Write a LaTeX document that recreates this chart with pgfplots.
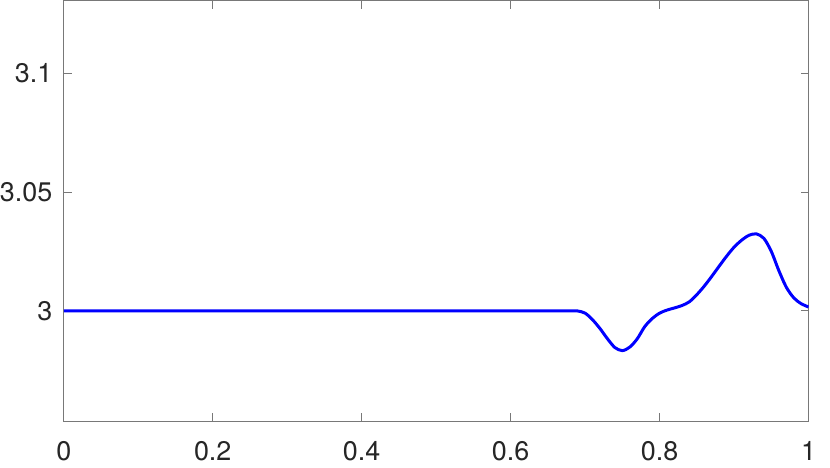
\documentclass[border=0pt]{standalone}
\usepackage{fontspec}
\setmainfont{TeX Gyre Heros}
\usepackage{pgfplots}
\pgfplotsset{compat=1.18}

\definecolor{axgray}{RGB}{120,120,120}
\definecolor{labgray}{RGB}{38,38,38}

\begin{document}
\begin{tikzpicture}
\begin{axis}[
  scale only axis,
  width=373.5pt,
  height=211pt,
  xmin=0, xmax=1,
  ymin=2.9534, ymax=3.1307,
  xtick={0,0.2,0.4,0.6,0.8,1},
  ytick={3,3.05,3.1},
  yticklabels={3,3.05,3.1},
  xticklabels={0,0.2,0.4,0.6,0.8,1},
  tick align=inside,
  major tick length=4pt,
  axis line style={axgray, line width=0.6pt},
  tick style={axgray, line width=0.6pt},
  tick label style={font=\fontsize{13.5}{16}\selectfont, text=labgray},
  /pgf/number format/assume math mode=true,
  xticklabel style={inner ysep=3pt, inner xsep=7pt, yshift=-7pt},
  yticklabel style={inner xsep=0pt, xshift=-5.5pt},
]
% data
\addplot[blue, line width=1.5pt, smooth, tension=0.5, line join=round] coordinates {
  (0,3) (0.1,3) (0.2,3) (0.3,3) (0.4,3) (0.5,3) (0.6,3) (0.68,3.0000)
  (0.69,2.9999) (0.70,2.9990) (0.71,2.9962) (0.72,2.9925) (0.73,2.9882)
  (0.74,2.9845) (0.75,2.9832) (0.76,2.9847) (0.77,2.9882) (0.78,2.9933)
  (0.79,2.9967) (0.80,2.9990) (0.81,3.0003) (0.82,3.0012) (0.83,3.0022)
  (0.84,3.0038) (0.85,3.0068) (0.86,3.0104) (0.87,3.0145) (0.88,3.0188)
  (0.89,3.0230) (0.90,3.0268) (0.91,3.0297) (0.92,3.0318) (0.93,3.0324)
  (0.94,3.0305) (0.95,3.0250) (0.96,3.0170) (0.97,3.0100) (0.98,3.0055)
  (0.99,3.0030) (1.00,3.0016)
};
\end{axis}
\end{tikzpicture}
\end{document}
